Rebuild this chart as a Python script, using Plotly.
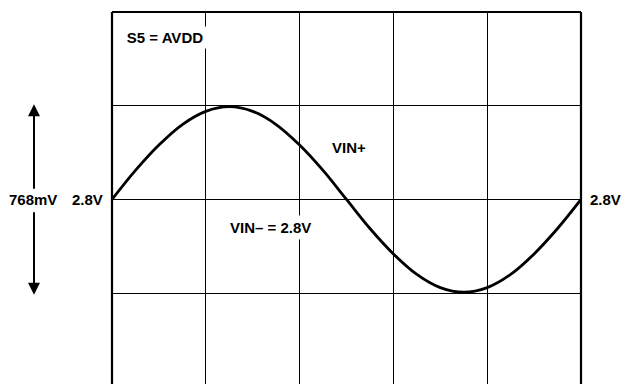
import plotly.graph_objects as go

# Horizontal position in screen divisions (5 divisions across)
t_div = [0.0, 0.25, 0.5, 0.75, 1.0, 1.25, 1.5, 1.75, 2.0, 2.25, 2.5,
         2.75, 3.0, 3.25, 3.5, 3.75, 4.0, 4.25, 4.5, 4.75, 5.0]
# VIN+ in volts, centred on 2.8V with 768mV peak-to-peak
vin_plus = [2.800, 2.919, 3.023, 3.107, 3.161, 3.180, 3.161, 3.107, 3.023, 2.919, 2.800,
            2.681, 2.577, 2.493, 2.439, 2.420, 2.439, 2.493, 2.577, 2.681, 2.800]

v_center = 2.8
v_per_div = 0.384
font = dict(family="Liberation Sans, Arial, sans-serif", size=15, color="black")

fig = go.Figure()
fig.add_trace(go.Scatter(x=t_div, y=vin_plus, mode="lines",
                         line=dict(color="black", width=2.8, shape="spline", smoothing=1.0),
                         hoverinfo="skip", showlegend=False))

top = v_center + 2 * v_per_div
fig.update_layout(
    width=621, height=384,
    margin=dict(l=112, r=40, t=12, b=0, pad=0),
    paper_bgcolor="white", plot_bgcolor="white",
    xaxis=dict(range=[0, 5], dtick=1, tick0=0, showgrid=True, gridcolor="black", gridwidth=1,
               zeroline=False, showticklabels=False, ticks="", showline=False, fixedrange=True),
    yaxis=dict(range=[top - 372 / (93.74 / v_per_div), top], dtick=v_per_div, tick0=v_center,
               showgrid=True, gridcolor="black", gridwidth=1, zeroline=False,
               showticklabels=False, ticks="", showline=False, fixedrange=True),
    font=font,
)

# Frame on left, top and right
for x0, y0, x1, y1 in [(0, 0, 0, 1), (0, 1, 1, 1), (1, 0, 1, 1)]:
    fig.add_shape(type="line", xref="paper", yref="paper", x0=x0, y0=y0, x1=x1, y1=y1,
                  line=dict(color="black", width=2.2), layer="above")

bold = lambda s: "<b>" + s + "</b>"
fig.add_annotation(x=0.57, y=3.464, xref="x", yref="y", text=bold("S5 = AVDD"), width=86,
                   showarrow=False, bgcolor="white", borderpad=2, font=font)
fig.add_annotation(x=2.523, y=3.013, xref="x", yref="y", text=bold("VIN+"),
                   showarrow=False, font=font)
fig.add_annotation(x=1.691, y=2.686, xref="x", yref="y", text=bold("VIN– = 2.8V"),
                   showarrow=False, bgcolor="white", borderpad=3, font=font)

# Side labels at the 2.8V level
px = lambda p: (p - 112) / 469.0
for cx, label in [(87, "2.8V"), (605, "2.8V"), (33, "768mV")]:
    fig.add_annotation(x=px(cx), y=v_center, xref="paper", yref="y", text=bold(label),
                       xanchor="center", yanchor="middle", showarrow=False, font=font)

# Peak-to-peak span arrows
fig.add_annotation(x=px(34), y=3.19, xref="paper", yref="y", ax=0, ay=86, text="",
                   showarrow=True, arrowhead=2, arrowsize=1.2, arrowwidth=2, arrowcolor="black")
fig.add_annotation(x=px(34), y=2.41, xref="paper", yref="y", ax=0, ay=-84, text="",
                   showarrow=True, arrowhead=2, arrowsize=1.2, arrowwidth=2, arrowcolor="black")

fig.write_html("out.html")
